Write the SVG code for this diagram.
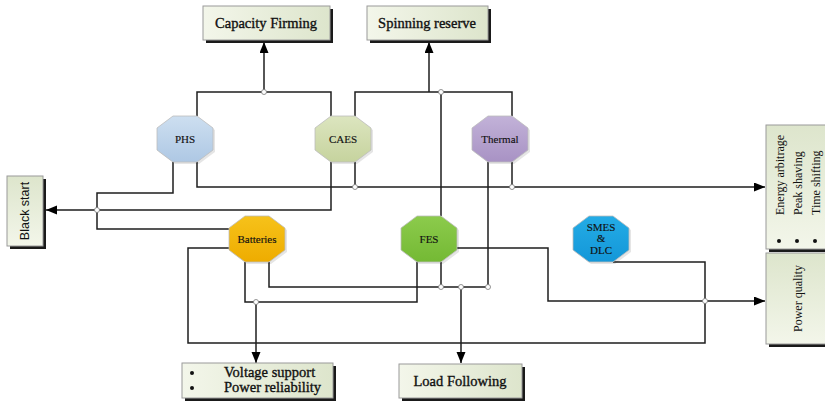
<svg xmlns="http://www.w3.org/2000/svg" width="825" height="401" viewBox="0 0 825 401">
<defs>
<linearGradient id="boxg" x1="0" y1="0" x2="1" y2="0"><stop offset="0" stop-color="#f3f6ea"/><stop offset="1" stop-color="#dde5cc"/></linearGradient>
<linearGradient id="boxv" x1="0" y1="1" x2="0" y2="0"><stop offset="0" stop-color="#f3f6ea"/><stop offset="1" stop-color="#dde5cc"/></linearGradient>
<linearGradient id="gPHS" x1="0" y1="0" x2="0" y2="1"><stop offset="0" stop-color="#cddff0"/><stop offset="1" stop-color="#aec8e4"/></linearGradient>
<linearGradient id="gCAES" x1="0" y1="0" x2="0" y2="1"><stop offset="0" stop-color="#dce5bf"/><stop offset="1" stop-color="#c6d39e"/></linearGradient>
<linearGradient id="gTH" x1="0" y1="0" x2="0" y2="1"><stop offset="0" stop-color="#c2b2d8"/><stop offset="1" stop-color="#a892c4"/></linearGradient>
<linearGradient id="gBAT" x1="0" y1="0" x2="0" y2="1"><stop offset="0" stop-color="#f6c21a"/><stop offset="1" stop-color="#eeac00"/></linearGradient>
<linearGradient id="gFES" x1="0" y1="0" x2="0" y2="1"><stop offset="0" stop-color="#8ccb4c"/><stop offset="1" stop-color="#74b934"/></linearGradient>
<linearGradient id="gSM" x1="0" y1="0" x2="0" y2="1"><stop offset="0" stop-color="#24ace6"/><stop offset="1" stop-color="#1497d8"/></linearGradient>
<marker id="arr" markerUnits="userSpaceOnUse" markerWidth="12" markerHeight="10" refX="11" refY="4.5" orient="auto"><path d="M0,0 L11,4.5 L0,9 z" fill="#000"/></marker>
<polygon id="oct" points="-12,-23 12,-23 28,-11 28,11 12,23 -12,23 -28,11 -28,-11"/>
</defs>
<style>
.box{fill:url(#boxg);stroke:#9a9a9a;stroke-width:1}
.boxv{fill:url(#boxv);stroke:#9a9a9a;stroke-width:1}
.sh{fill:#1a1a1a}
.osh{fill:#000;opacity:0.1}
.ost{stroke:#bdbdbd;stroke-width:0.8}
.t{font-family:"Liberation Serif","Times New Roman",serif;fill:#111}
.bt{font-size:14.5px;text-anchor:middle;stroke:#111;stroke-width:0.35}
.ot{font-size:11px;text-anchor:middle;stroke:#111;stroke-width:0.15}
.vt{font-size:12px}
.ln{fill:none;stroke:#1e1e1e;stroke-width:1.5}
.ar{marker-end:url(#arr)}
.dot{fill:#fff;stroke:#777;stroke-width:0.8}
</style>

<g id="connectors">
<path class="ln" d="M197,116 V92 H331 V116"/>
<path class="ln ar" d="M264,92 V42"/>
<path class="ln" d="M355,116 V92 H512 V116"/>
<path class="ln ar" d="M429,92 V42"/>
<path class="ln" d="M441,216 V92"/>
<path class="ln ar" d="M197,162 V187 H765"/>
<path class="ln" d="M355,162 V187"/>
<path class="ln" d="M512,162 V187"/>
<path class="ln" d="M173,162 V193 H97 V229 H229"/>
<path class="ln ar" d="M331,162 V210 H46"/>
<path class="ln" d="M269,262 V287 H488 V162"/>
<path class="ln" d="M441,262 V287"/>
<path class="ln ar" d="M461,287 V363"/>
<path class="ln" d="M245,262 V302 H417 V262"/>
<path class="ln ar" d="M256,302 V363"/>
<path class="ln ar" d="M457,248 H548 V301 H765"/>
<path class="ln" d="M613,262 H705 V343 H188 V248 H229"/>
<circle class="dot" cx="264" cy="92" r="2.5"/>
<circle class="dot" cx="441" cy="92" r="2.5"/>
<circle class="dot" cx="355" cy="187" r="2.5"/>
<circle class="dot" cx="512" cy="187" r="2.5"/>
<circle class="dot" cx="97" cy="210" r="2.5"/>
<circle class="dot" cx="441" cy="287" r="2.5"/>
<circle class="dot" cx="461" cy="287" r="2.5"/>
<circle class="dot" cx="488" cy="287" r="2.5"/>
<circle class="dot" cx="256" cy="302" r="2.5"/>
<circle class="dot" cx="705" cy="301" r="2.5"/>
</g>

<g id="capacity-firming">
<rect class="sh" x="206" y="9" width="127" height="34"/>
<rect class="box" x="203" y="6" width="127" height="34"/>
<text class="t bt" x="266" y="28">Capacity Firming</text>
</g>
<g id="spinning-reserve">
<rect class="sh" x="370" y="9" width="121" height="34"/>
<rect class="box" x="367" y="6" width="121" height="34"/>
<text class="t bt" x="427" y="28">Spinning reserve</text>
</g>
<g id="black-start">
<rect class="sh" x="10" y="179" width="36" height="70"/>
<rect class="boxv" x="7" y="176" width="36" height="70"/>
<text x="29" y="211" transform="rotate(-90 29 211)" style="font-family:'Liberation Sans',Arial,sans-serif;font-size:12.5px;text-anchor:middle;fill:#111">Black start</text>
</g>
<g id="energy-arbitrage">
<rect class="sh" x="769" y="128" width="62" height="124"/>
<rect class="boxv" x="766" y="125" width="62" height="124"/>
<text class="t vt" x="784" y="215" transform="rotate(-90 784 215)">Energy arbitrage</text>
<text class="t vt" x="802" y="215" transform="rotate(-90 802 215)">Peak shaving</text>
<text class="t vt" x="820" y="215" transform="rotate(-90 820 215)">Time shifting</text>
<circle cx="779" cy="241" r="2" fill="#111"/>
<circle cx="797" cy="241" r="2" fill="#111"/>
<circle cx="815" cy="241" r="2" fill="#111"/>
</g>
<g id="power-quality">
<rect class="sh" x="769" y="256" width="62" height="91"/>
<rect class="boxv" x="766" y="253" width="62" height="91"/>
<text class="t vt" x="802" y="298.5" transform="rotate(-90 802 298.5)" text-anchor="middle">Power quality</text>
</g>
<g id="voltage-support">
<rect class="sh" x="185" y="366" width="151" height="35"/>
<rect class="box" x="182" y="363" width="151" height="35"/>
<circle cx="192" cy="373" r="2" fill="#111"/>
<circle cx="192" cy="388" r="2" fill="#111"/>
<text class="t" x="224" y="377" style="font-size:14.5px;stroke:#111;stroke-width:0.35">Voltage support</text>
<text class="t" x="224" y="392" style="font-size:14.5px;stroke:#111;stroke-width:0.35">Power reliability</text>
</g>
<g id="load-following">
<rect class="sh" x="402" y="367" width="123" height="34"/>
<rect class="box" x="399" y="364" width="123" height="34"/>
<text class="t bt" x="460" y="386">Load Following</text>
</g>

<g id="PHS">
<use href="#oct" x="187" y="141" class="osh"/>
<use href="#oct" x="185" y="139" fill="url(#gPHS)" class="ost"/>
<text class="t ot" x="185" y="143">PHS</text>
</g>
<g id="CAES">
<use href="#oct" x="345" y="141" class="osh"/>
<use href="#oct" x="343" y="139" fill="url(#gCAES)" class="ost"/>
<text class="t ot" x="343" y="143">CAES</text>
</g>
<g id="Thermal">
<use href="#oct" x="502" y="141" class="osh"/>
<use href="#oct" x="500" y="139" fill="url(#gTH)" class="ost"/>
<text class="t ot" x="500" y="143">Thermal</text>
</g>
<g id="Batteries">
<use href="#oct" x="259" y="241" class="osh"/>
<use href="#oct" x="257" y="239" fill="url(#gBAT)" class="ost"/>
<text class="t ot" x="257" y="243">Batteries</text>
</g>
<g id="FES">
<use href="#oct" x="431" y="241" class="osh"/>
<use href="#oct" x="429" y="239" fill="url(#gFES)" class="ost"/>
<text class="t ot" x="429" y="243">FES</text>
</g>
<g id="SMES-DLC">
<use href="#oct" x="603" y="241" class="osh"/>
<use href="#oct" x="601" y="239" fill="url(#gSM)" class="ost"/>
<text class="t ot" x="601" y="231">SMES</text>
<text class="t ot" x="601" y="242">&amp;</text>
<text class="t ot" x="601" y="254">DLC</text>
</g>
</svg>
